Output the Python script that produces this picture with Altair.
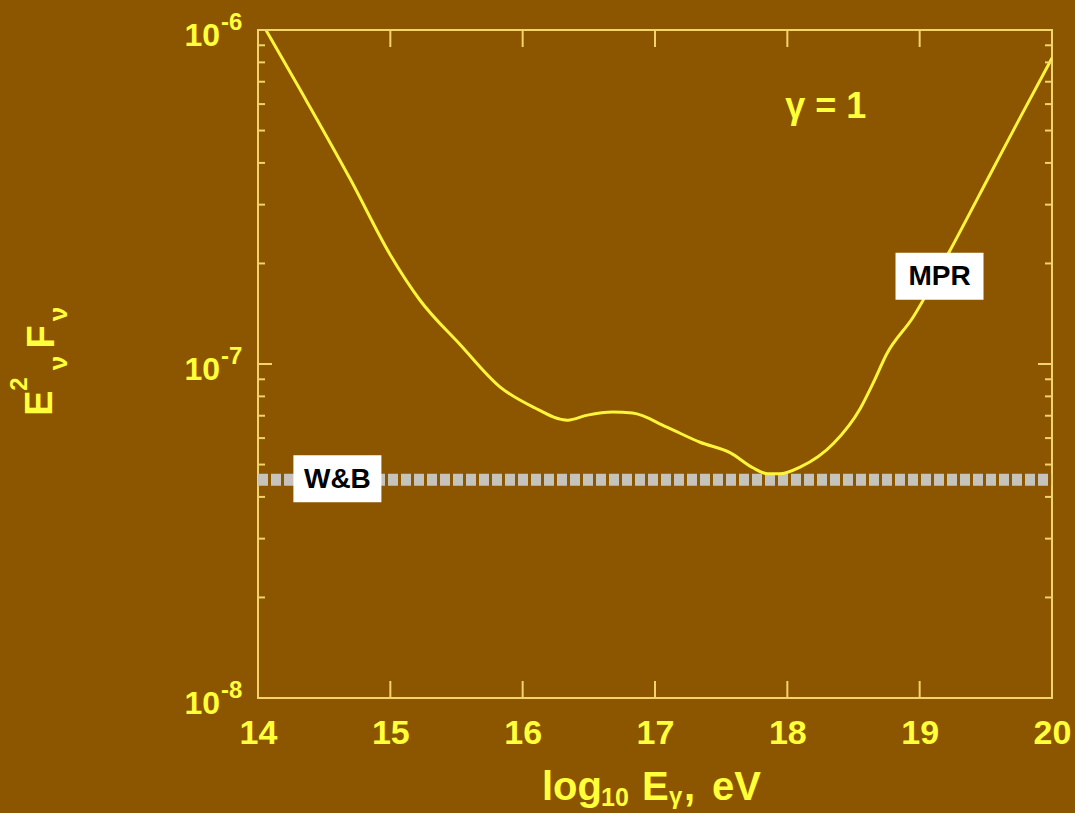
import altair as alt
import pandas as pd

# ---------------- data ----------------
curve_x = [14.06, 14.32, 14.70, 15.00, 15.22, 15.53, 15.83, 16.08, 16.34, 16.49,
           16.68, 16.83, 17.09, 17.34, 17.57, 17.74, 17.85, 17.94, 18.10, 18.35,
           18.55, 18.65, 18.75, 18.95, 19.23, 19.55, 19.77, 20.00]
curve_y = [1.00e-6, 6.61e-7, 3.56e-7, 2.12e-7, 1.56e-7, 1.14e-7, 8.53e-8, 7.43e-8, 6.79e-8, 7.03e-8,
           7.18e-8, 7.13e-8, 6.47e-8, 5.83e-8, 5.42e-8, 4.89e-8, 4.69e-8, 4.69e-8, 4.92e-8, 5.79e-8,
           7.35e-8, 8.80e-8, 1.07e-7, 1.38e-7, 2.19e-7, 3.81e-7, 5.57e-7, 8.24e-7]

wb_x = [14.0, 20.0]
wb_y = [4.5e-8, 4.5e-8]

box_text = ["W&B", "MPR"]
box_x = [14.60, 19.15]
box_y = [4.53e-8, 1.83e-7]

gamma_text = ["γ = 1"]
gamma_x = [18.29]
gamma_y = [5.88e-7]

ytick_major = [1e-8, 1e-7, 1e-6]
ytick_minor = [2e-8, 3e-8, 4e-8, 5e-8, 6e-8, 7e-8, 8e-8, 9e-8,
               2e-7, 3e-7, 4e-7, 5e-7, 6e-7, 7e-7, 8e-7, 9e-7]
xtick_inner = [15, 16, 17, 18, 19]
xlabel_vals = [14, 15, 16, 17, 18, 19, 20]
ylabel_vals = [1e-8, 1e-7, 1e-6]
ylabel_exp = ["-8", "-7", "-6"]

# ---------------- styles ----------------
BG = "#8c5500"
FRAME = "#f2d46a"
YEL = "#ffff3a"
CURVE = "#fff53a"
GRAY = "#c6c2bc"
FONT = "Liberation Sans Narrow, Liberation Sans, Arial"
W, H = 794, 668

xscale = alt.Scale(domain=[14, 20], nice=False, zero=False)
yscale = alt.Scale(type="log", domain=[1e-8, 1e-6], nice=False)

xaxis = alt.Axis(values=xlabel_vals, title=None, ticks=False, tickSize=0, domain=False,
                 grid=False, labelFontSize=34, labelFont=FONT, labelFontWeight="bold",
                 labelColor=YEL, labelPadding=18, labelFlush=False, format="d")

def X(field="x"):
    return alt.X(f"{field}:Q", scale=xscale, axis=xaxis)

def Y(field="y"):
    return alt.Y(f"{field}:Q", scale=yscale, axis=None)

curve_df = pd.DataFrame({"x": curve_x, "y": curve_y})
wb_df = pd.DataFrame({"x": wb_x, "y": wb_y})
box_df = pd.DataFrame({"x": box_x, "y": box_y, "t": box_text})
gamma_df = pd.DataFrame({"x": gamma_x, "y": gamma_y, "t": gamma_text})
ymaj_df = pd.DataFrame({"y": ytick_major})
ymin_df = pd.DataFrame({"y": ytick_minor})
xt_df = pd.DataFrame({"x": xtick_inner})
ylab_df = pd.DataFrame({"y": ylabel_vals, "e": ylabel_exp})

wb = alt.Chart(wb_df).mark_line(color=GRAY, strokeWidth=12, strokeDash=[10, 3],
                                strokeCap="butt").encode(x=X(), y=Y())

curve = alt.Chart(curve_df).mark_line(color=CURVE, strokeWidth=3,
                                      interpolate="monotone", clip=True).encode(x=X(), y=Y())

boxes = alt.Chart(box_df).mark_rect(width=88, height=47, fill="white").encode(x=X(), y=Y())
box_txt = alt.Chart(box_df).mark_text(font="Liberation Sans", fontWeight="bold", fontSize=28,
                                      color="black", baseline="middle", dy=1).encode(
    x=X(), y=Y(), text="t:N")

gamma = alt.Chart(gamma_df).mark_text(font="Liberation Sans", fontWeight="bold", fontSize=36,
                                      color=YEL, baseline="middle").encode(x=X(), y=Y(), text="t:N")

# inside ticks
lmaj = alt.Chart(ymaj_df).mark_rule(color=FRAME, strokeWidth=2).encode(
    y=Y(), x=alt.value(0), x2=alt.value(14))
lmin = alt.Chart(ymin_df).mark_rule(color=FRAME, strokeWidth=2).encode(
    y=Y(), x=alt.value(0), x2=alt.value(7))
rmaj = alt.Chart(ymaj_df).mark_rule(color=FRAME, strokeWidth=2).encode(
    y=Y(), x=alt.value(W), x2=alt.value(W - 14))
rmin = alt.Chart(ymin_df).mark_rule(color=FRAME, strokeWidth=2).encode(
    y=Y(), x=alt.value(W), x2=alt.value(W - 7))
bt = alt.Chart(xt_df).mark_rule(color=FRAME, strokeWidth=2).encode(
    x=X(), y=alt.value(H), y2=alt.value(H - 17))
tt = alt.Chart(xt_df).mark_rule(color=FRAME, strokeWidth=2).encode(
    x=X(), y=alt.value(0), y2=alt.value(17))

# y tick labels 10^n
ylab_base = alt.Chart(ylab_df).mark_text(font=FONT, fontWeight="bold", fontSize=32, color=YEL,
                                         align="right", baseline="alphabetic", dy=16).encode(
    y=Y(), x=alt.value(-38), text=alt.value("10"))
ylab_exp = alt.Chart(ylab_df).mark_text(font=FONT, fontWeight="bold", fontSize=24, color=YEL,
                                        align="left", baseline="alphabetic", dy=0).encode(
    y=Y(), x=alt.value(-37), text="e:N")

# y title pieces: E^2_nu F_nu (rotated)
def rot(txt, cx, cy, size):
    return alt.Chart(pd.DataFrame({"t": [txt]})).mark_text(
        font="Liberation Sans", fontWeight="bold", fontSize=size, color=YEL, angle=270,
        align="center", baseline="middle").encode(
        x=alt.value(cx - 258), y=alt.value(cy - 30), text="t:N")

ytitle = [rot("E", 41, 403, 38), rot("2", 20, 384, 24), rot("ν", 59, 363, 26),
          rot("F", 43, 337, 38), rot("ν", 59, 314, 26)]

# x title pieces: log_10 E_gamma,  eV
def hx(txt, lx, base, size):
    return alt.Chart(pd.DataFrame({"t": [txt]})).mark_text(
        font="Liberation Sans", fontWeight="bold", fontSize=size, color=YEL,
        align="left", baseline="alphabetic").encode(
        x=alt.value(lx - 258), y=alt.value(base - 30), text="t:N")

xtitle = [hx("log", 542, 800, 40), hx("10", 601, 806, 25), hx("E", 642, 800, 40),
          hx("γ", 669, 804, 24), hx(",", 684, 800, 40), hx("eV", 712, 800, 40)]

chart = alt.layer(
    wb, curve, boxes, box_txt, gamma, lmaj, lmin, rmaj, rmin, bt, tt,
    ylab_base, ylab_exp, *ytitle, *xtitle
).properties(
    width=W, height=H,
    autosize=alt.AutoSizeParams(type="none"),
    padding={"left": 258, "top": 30, "right": 23, "bottom": 115},
    background=BG,
).configure_view(stroke=FRAME, strokeWidth=2)

chart.save("out.html", embed_options={"renderer": "svg", "actions": False})
